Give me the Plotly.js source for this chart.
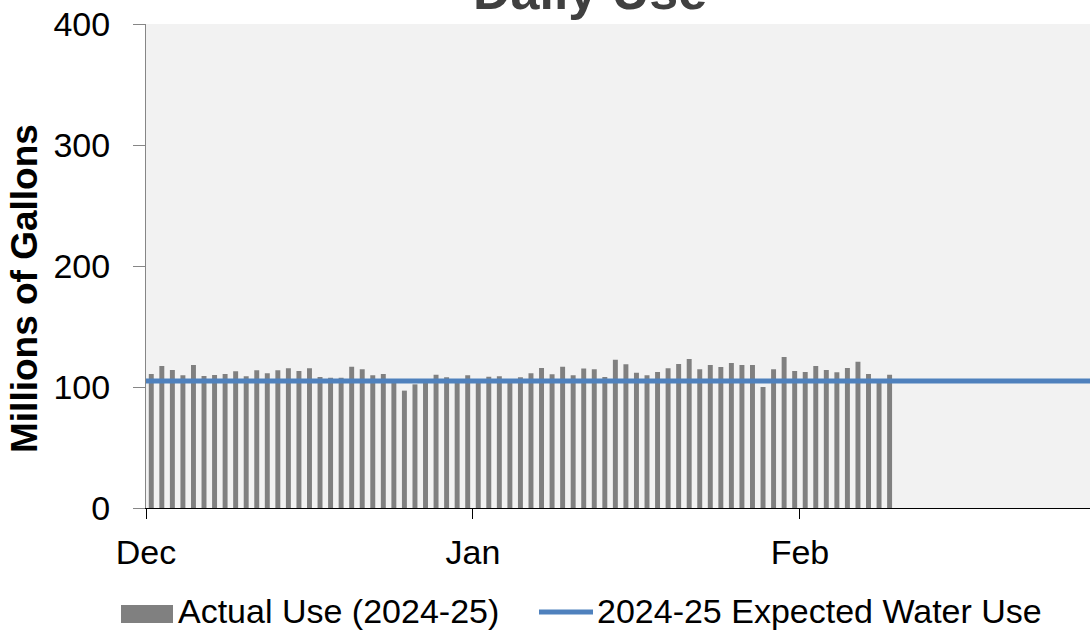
<!DOCTYPE html>
<html>
<head>
<meta charset="utf-8">
<script src="https://cdn.plot.ly/plotly-3.0.1.min.js"></script>
<style>
  html, body { margin: 0; padding: 0; background: #ffffff; }
  #chart { width: 1090px; height: 631px; }
</style>
</head>
<body>
<div id="chart"></div>
<script>
// ---- Data ----
const startDate = "2024-12-01";
const actualUse = [
  110.7, 117.4, 114.0, 109.7, 118.2, 109.0, 110.0, 110.7, 113.0, 108.8,
  113.8, 111.3, 113.8, 115.4, 113.2, 115.4, 108.3, 107.7, 107.7, 116.8,
  114.6, 109.7, 110.7, 104.0, 97.0, 102.2, 103.5, 110.2, 108.0, 104.0,
  109.7,
  104.0, 108.5, 108.8, 104.0, 108.0, 111.3, 115.7, 110.5, 116.8, 109.7,
  115.2, 114.6, 108.3, 122.6, 118.7, 111.8, 109.8, 112.4, 115.4, 119.0,
  123.1, 114.6, 118.2, 116.5, 119.8, 118.2, 118.2, 100.0, 114.6, 124.8,
  113.2,
  112.4, 117.4, 114.0, 112.1, 115.7, 120.9, 110.7, 105.0, 110.2
];
const expectedDates = ["2024-12-01", "2025-03-01"];
const expectedUse = [105, 105];
const tickDates = ["2024-12-01", "2025-01-01", "2025-02-01"];
const tickLabels = ["Dec", "Jan", "Feb"];
const yTicks = [0, 100, 200, 300, 400];
const seriesNames = ["Actual Use (2024-25)", "2024-25 Expected Water Use"];

// daily bar positions (centered at noon of each day)
const DAY = 86400000;
const t0 = Date.UTC(2024, 11, 1);
const barDates = actualUse.map((_, i) => {
  const d = new Date(t0 + i * DAY + DAY / 2);
  return d.toISOString().replace("Z", "").replace("T", " ").slice(0, 19);
});

const FONT = "Liberation Sans, Arial, sans-serif";

const traces = [
  {
    type: "bar",
    name: seriesNames[0],
    x: barDates,
    y: actualUse,
    width: 0.47 * DAY,
    marker: { color: "#808080", line: { width: 0 } },
    showlegend: false,
    hoverinfo: "x+y"
  },
  {
    type: "scatter",
    mode: "lines",
    name: seriesNames[1],
    x: expectedDates,
    y: expectedUse,
    line: { color: "#4f81bd", width: 5 },
    showlegend: false
  }
];

// paper-coordinate helpers (plot area: x 146..1090, y 24..508)
const L = 146, R = 1090, T = 24, B = 508;
const px = x => (x - L) / (R - L);
const py = y => (B - y) / (B - T);

const layout = {
  width: 1090,
  height: 631,
  margin: { l: L, r: 1090 - R, t: T, b: 631 - B, pad: 0 },
  paper_bgcolor: "#ffffff",
  plot_bgcolor: "#f2f2f2",
  font: { family: FONT, color: "#000000", size: 34 },
  xaxis: {
    type: "date",
    range: ["2024-12-01", "2025-02-28 12:00"],
    tickvals: tickDates,
    ticktext: tickLabels,
    ticks: "outside",
    ticklen: 10,
    tickwidth: 1,
    tickcolor: "#000000",
    showline: true,
    linecolor: "#000000",
    linewidth: 1,
    showgrid: false,
    zeroline: false,
    tickfont: { family: FONT, size: 34, color: "#000000" },
    ticklabelstandoff: 4,
    fixedrange: true
  },
  yaxis: {
    range: [0, 400],
    tickvals: yTicks,
    ticks: "outside",
    ticklen: 12,
    tickwidth: 1,
    tickcolor: "#868686",
    showline: true,
    linecolor: "#868686",
    linewidth: 1,
    showgrid: false,
    zeroline: false,
    tickfont: { family: FONT, size: 34, color: "#000000" },
    ticklabelstandoff: 16,
    fixedrange: true
  },
  showlegend: false,
  annotations: [
    {
      text: "<b>Daily Use</b>",
      xref: "paper", yref: "paper",
      x: px(590), y: py(22),
      xanchor: "center", yanchor: "bottom",
      showarrow: false,
      font: { family: FONT, size: 52, color: "#404040" }
    },
    {
      text: "<b>Millions of Gallons</b>",
      xref: "paper", yref: "paper",
      x: px(24), y: py(289),
      xanchor: "center", yanchor: "middle",
      textangle: -90,
      showarrow: false,
      font: { family: FONT, size: 37, color: "#000000" }
    },
    {
      text: seriesNames[0],
      xref: "paper", yref: "paper",
      x: px(176), y: py(611),
      xanchor: "left", yanchor: "middle",
      showarrow: false,
      font: { family: FONT, size: 34, color: "#000000" }
    },
    {
      text: seriesNames[1],
      xref: "paper", yref: "paper",
      x: px(595), y: py(611),
      xanchor: "left", yanchor: "middle",
      showarrow: false,
      font: { family: FONT, size: 34, color: "#000000" }
    }
  ],
  shapes: [
    {
      type: "rect", xref: "paper", yref: "paper",
      x0: px(121), x1: px(173), y0: py(623), y1: py(605),
      fillcolor: "#808080", line: { width: 0 }
    },
    {
      type: "line", xref: "paper", yref: "paper",
      x0: px(539), x1: px(593), y0: py(612), y1: py(612),
      line: { color: "#4f81bd", width: 5 }
    }
  ]
};

Plotly.newPlot("chart", traces, layout, { displayModeBar: false, staticPlot: true });
</script>
</body>
</html>
